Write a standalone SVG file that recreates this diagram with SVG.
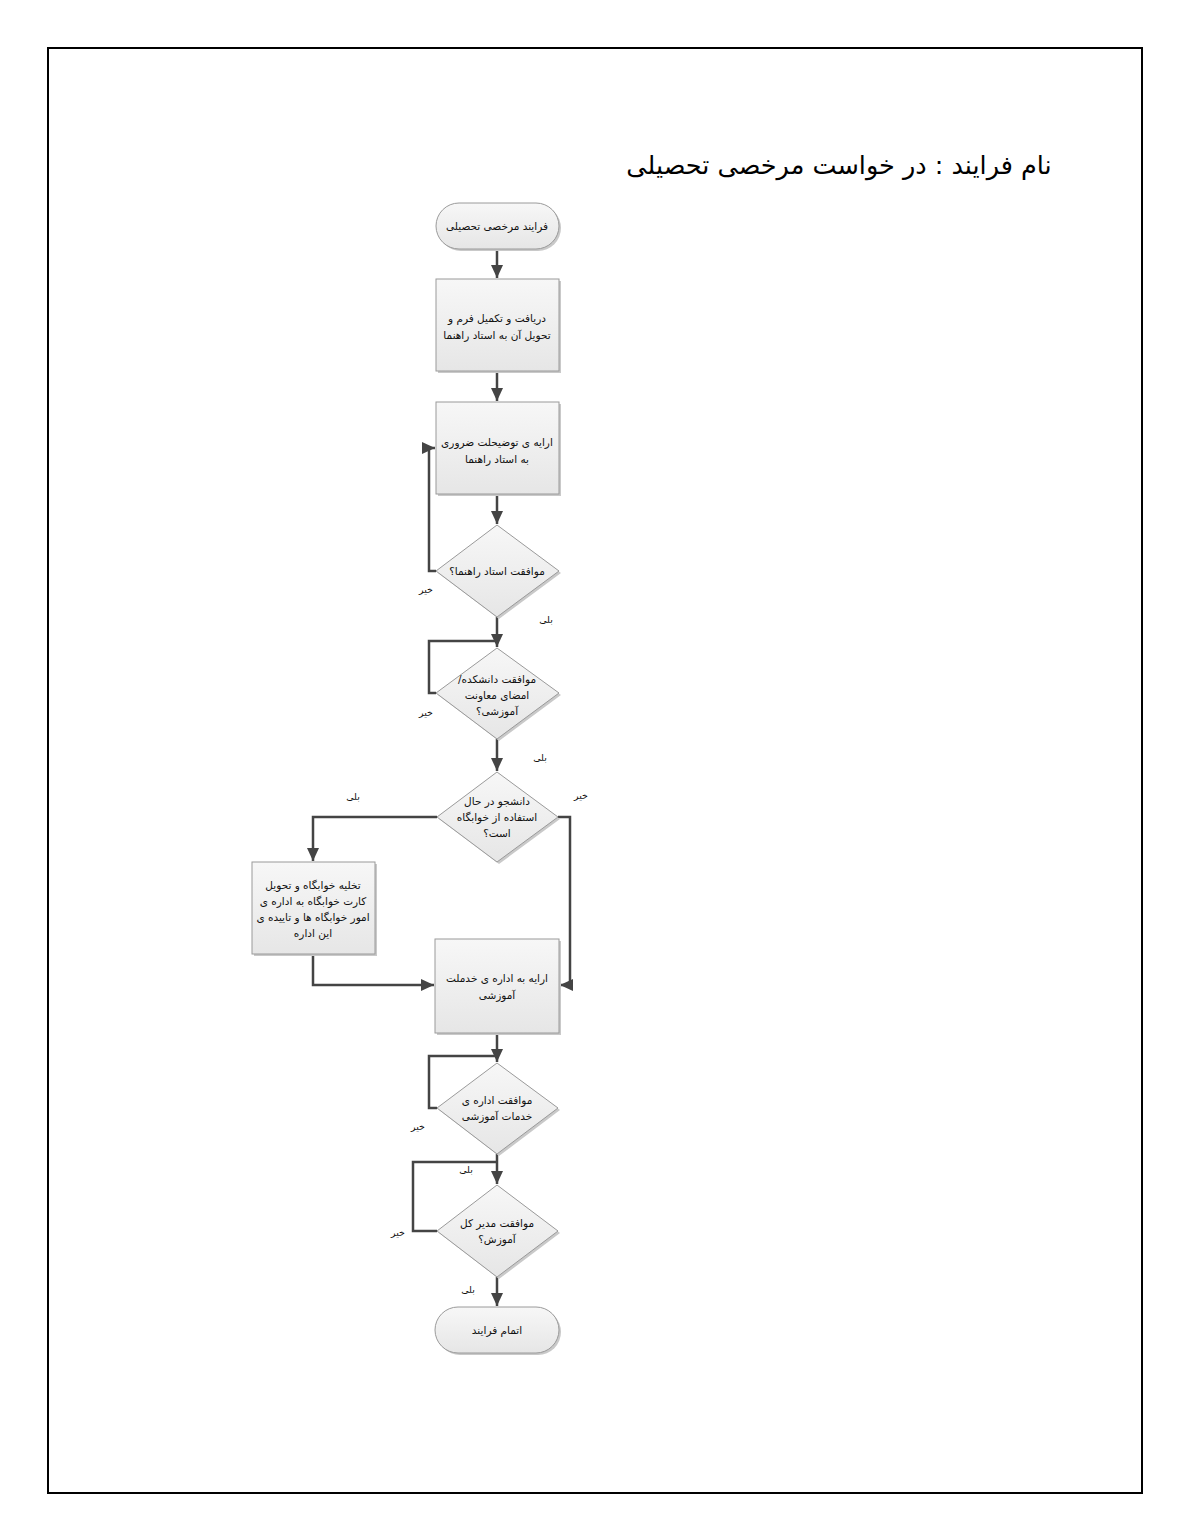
<svg xmlns="http://www.w3.org/2000/svg" width="1190" height="1540" viewBox="0 0 1190 1540">
<style>
.shape{fill:url(#g);stroke:#9a9a9a;stroke-width:1}
.shadow{fill:#c9c9c9;stroke:none}
.t{font-family:"DejaVu Sans","Noto Sans",sans-serif;font-size:10.5px;fill:#111;text-anchor:middle;direction:rtl}
.lbl{font-family:"DejaVu Sans","Noto Sans",sans-serif;font-size:9.5px;fill:#111;text-anchor:middle;direction:rtl}
.title{font-family:"DejaVu Sans","Noto Sans",sans-serif;font-size:25.5px;fill:#000;text-anchor:middle;direction:rtl}
.c{fill:none;stroke:#444;stroke-width:2.5}
</style>
<defs>
<linearGradient id="g" x1="0" y1="0" x2="0" y2="1">
<stop offset="0" stop-color="#f7f7f7"/>
<stop offset="1" stop-color="#e6e6e6"/>
</linearGradient>
<marker id="a" markerUnits="userSpaceOnUse" markerWidth="14" markerHeight="14" viewBox="0 0 14 14" refX="13" refY="7" orient="auto">
<path d="M0,1 L13,7 L0,13 Z" fill="#444"/>
</marker>
</defs>
<rect x="48" y="48" width="1094" height="1445" fill="#fff" stroke="#000" stroke-width="2"/>
<text class="title" x="839" y="174">نام فرایند : در خواست مرخصی تحصیلی</text>

<g id="connectors">
<path class="c" d="M497,248 V278" marker-end="url(#a)"/>
<path class="c" d="M497,371 V401" marker-end="url(#a)"/>
<path class="c" d="M497,494 V524" marker-end="url(#a)"/>
<path class="c" d="M436,571 H429 V448 H435" marker-end="url(#a)"/>
<path class="c" d="M497,617 V647" marker-end="url(#a)"/>
<path class="c" d="M436,693 H429 V641 H497"/>
<path class="c" d="M497,739 V771" marker-end="url(#a)"/>
<path class="c" d="M437,817 H313 V861" marker-end="url(#a)"/>
<path class="c" d="M558,817 H570 V985 H560" marker-end="url(#a)"/>
<path class="c" d="M313,954 V985 H434" marker-end="url(#a)"/>
<path class="c" d="M497,1033 V1062" marker-end="url(#a)"/>
<path class="c" d="M437,1108 H429 V1056 H497"/>
<path class="c" d="M497,1154 V1184" marker-end="url(#a)"/>
<path class="c" d="M437,1231 H413 V1162 H497"/>
<path class="c" d="M497,1277 V1306" marker-end="url(#a)"/>
<text class="lbl" x="426" y="593">خیر</text>
<text class="lbl" x="546" y="623">بلی</text>
<text class="lbl" x="426" y="716">خیر</text>
<text class="lbl" x="540" y="761">بلی</text>
<text class="lbl" x="353" y="800">بلی</text>
<text class="lbl" x="581" y="799">خیر</text>
<text class="lbl" x="418" y="1130">خیر</text>
<text class="lbl" x="466" y="1173">بلی</text>
<text class="lbl" x="398" y="1236">خیر</text>
<text class="lbl" x="468" y="1293">بلی</text>
</g>

<g id="start">
<rect class="shadow" x="438" y="205" width="123" height="46" rx="23"/>
<rect class="shape" x="436" y="203" width="123" height="46" rx="23"/>
<text class="t" x="497" y="230">فرایند مرخصی تحصیلی</text>
</g>

<g id="receive-form">
<rect class="shadow" x="438" y="281" width="123" height="92"/>
<rect class="shape" x="436" y="279" width="123" height="92"/>
<text class="t" x="497" y="322">دریافت و تکمیل فرم و</text>
<text class="t" x="497" y="339">تحویل آن به استاد راهنما</text>
</g>

<g id="explain">
<rect class="shadow" x="438" y="404" width="123" height="92"/>
<rect class="shape" x="436" y="402" width="123" height="92"/>
<text class="t" x="497" y="446">ارایه ی توضیحلت ضروری</text>
<text class="t" x="497" y="463">به استاد راهنما</text>
</g>

<g id="advisor-approval">
<polygon class="shadow" points="499,527 561,573 499,619 438,573"/>
<polygon class="shape" points="497,525 559,571 497,617 436,571"/>
<text class="t" x="497" y="575">موافقت استاد راهنما؟</text>
</g>

<g id="faculty-approval">
<polygon class="shadow" points="499,650 561,695 499,741 438,695"/>
<polygon class="shape" points="497,648 559,693 497,739 436,693"/>
<text class="t" x="497" y="683">موافقت دانشکده/</text>
<text class="t" x="497" y="699">امضای معاونت</text>
<text class="t" x="497" y="715">آموزشی؟</text>
</g>

<g id="dorm-question">
<polygon class="shadow" points="499,774 560,819 499,864 439,819"/>
<polygon class="shape" points="497,772 558,817 497,862 437,817"/>
<text class="t" x="497" y="805">دانشجو در حال</text>
<text class="t" x="497" y="821">استفاده از خوابگاه</text>
<text class="t" x="497" y="837">است؟</text>
</g>

<g id="dorm-clear">
<rect class="shadow" x="254" y="864" width="123" height="92"/>
<rect class="shape" x="252" y="862" width="123" height="92"/>
<text class="t" x="313" y="889">تخلیه خوابگاه و تحویل</text>
<text class="t" x="313" y="905">کارت خوابگاه به اداره ی</text>
<text class="t" x="313" y="921">امور خوابگاه ها و تاییده ی</text>
<text class="t" x="313" y="937">این اداره</text>
</g>

<g id="submit-services">
<rect class="shadow" x="437" y="941" width="124" height="94"/>
<rect class="shape" x="435" y="939" width="124" height="94"/>
<text class="t" x="497" y="982">ارایه به اداره ی خدملت</text>
<text class="t" x="497" y="999">آموزشی</text>
</g>

<g id="services-approval">
<polygon class="shadow" points="499,1065 560,1110 499,1156 439,1110"/>
<polygon class="shape" points="497,1063 558,1108 497,1154 437,1108"/>
<text class="t" x="497" y="1104">موافقت اداره ی</text>
<text class="t" x="497" y="1120">خدمات آموزشی</text>
</g>

<g id="director-approval">
<polygon class="shadow" points="499,1187 560,1233 499,1279 439,1233"/>
<polygon class="shape" points="497,1185 558,1231 497,1277 437,1231"/>
<text class="t" x="497" y="1227">موافقت مدیر کل</text>
<text class="t" x="497" y="1243">آموزش؟</text>
</g>

<g id="end">
<rect class="shadow" x="437" y="1309" width="124" height="46" rx="23"/>
<rect class="shape" x="435" y="1307" width="124" height="46" rx="23"/>
<text class="t" x="497" y="1334">اتمام فرایند</text>
</g>
</svg>
